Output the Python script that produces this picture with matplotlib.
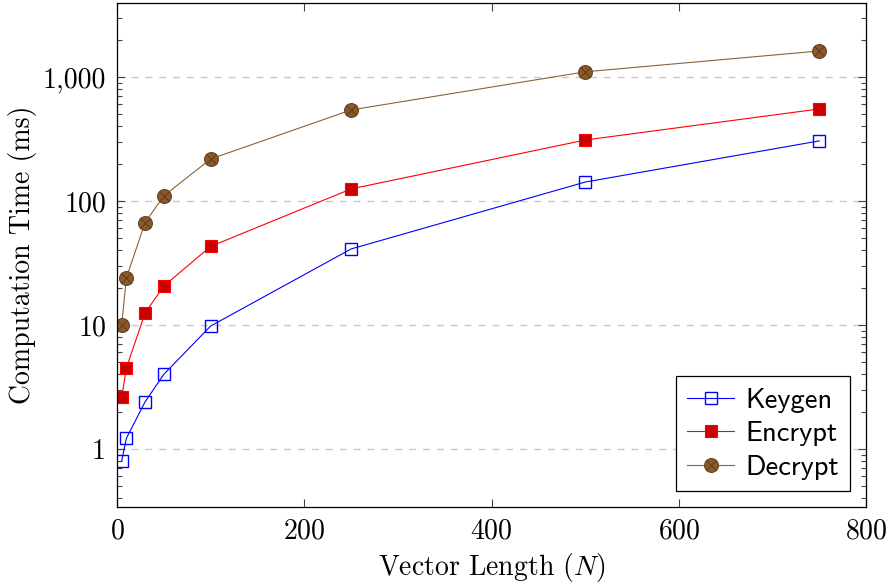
import numpy as np
import matplotlib
matplotlib.use("Agg")
import matplotlib.pyplot as plt
from matplotlib.ticker import FixedLocator, LogLocator, FuncFormatter, NullFormatter

plt.rcParams['font.family'] = 'serif'
plt.rcParams['font.serif'] = ['cmr10']
plt.rcParams['mathtext.fontset'] = 'cm'
plt.rcParams['axes.formatter.use_mathtext'] = True

# data
vec_len = [5, 10, 30, 50, 100, 250, 500, 750]
keygen = [0.80, 1.22, 2.4, 4.0, 9.8, 41, 142, 305]
encrypt = [2.6, 4.5, 12.5, 20.6, 43, 125, 310, 552]
decrypt = [10, 24, 67, 110, 218, 542, 1100, 1620]

fig = plt.figure(figsize=(8.96, 5.85), dpi=100)
ax = fig.add_axes([0.1306, 0.1333, 0.836, 0.8616])

lw = 0.8
k, = ax.plot(vec_len, keygen, color='blue', lw=lw, marker='s', ms=9,
             mfc='none', mec='blue', mew=1.0)
e, = ax.plot(vec_len, encrypt, color='red', lw=lw, marker='s', ms=9,
             mfc='#cc0000', mec='red', mew=0.8)
d, = ax.plot(vec_len, decrypt, color='#8c6239', lw=lw, marker='o', ms=10,
             mfc='#8b5a2b', mec='#6b4423', mew=0.8)
dx, = ax.plot(vec_len, decrypt, ls='none', marker='x', ms=6.5,
              mec='#5a3a1c', mew=0.7)

ax.set_yscale('log')
ax.set_xlim(0, 800)
ax.set_ylim(0.34, 3950)

ax.xaxis.set_major_locator(FixedLocator([0, 200, 400, 600, 800]))
ax.yaxis.set_major_locator(FixedLocator([1, 10, 100, 1000]))
ax.yaxis.set_minor_locator(LogLocator(base=10, subs=np.arange(2, 10)))
ax.yaxis.set_minor_formatter(NullFormatter())
ax.yaxis.set_major_formatter(FuncFormatter(lambda v, p: f"{v:,.0f}"))

ax.tick_params(which='both', direction='in', top=True, right=True,
               labelsize=20, width=0.8, color='#444444')
ax.tick_params(which='major', length=6, pad=8)
ax.tick_params(which='minor', length=3.5)

ax.grid(True, which='major', axis='y', color='#c8c8c8', ls=(0, (5, 5)), lw=1.0)
ax.set_axisbelow(True)

for s in ax.spines.values():
    s.set_linewidth(0.9)

ax.set_xlabel(r"Vector Length ($N$)", fontsize=20, labelpad=5)
ax.set_ylabel("Computation Time (ms)", fontsize=20, labelpad=4)

leg = ax.legend([k, e, (d, dx)], ["Keygen", "Encrypt", "Decrypt"],
                loc='lower right', prop={'family': 'cmss10', 'size': 20.5},
                fancybox=False, edgecolor='black', framealpha=1,
                handlelength=1.65, handletextpad=0.4, borderpad=0.4,
                labelspacing=0.3, borderaxespad=0.55)
leg.get_frame().set_linewidth(0.9)

fig.savefig("out.png", dpi=100)
